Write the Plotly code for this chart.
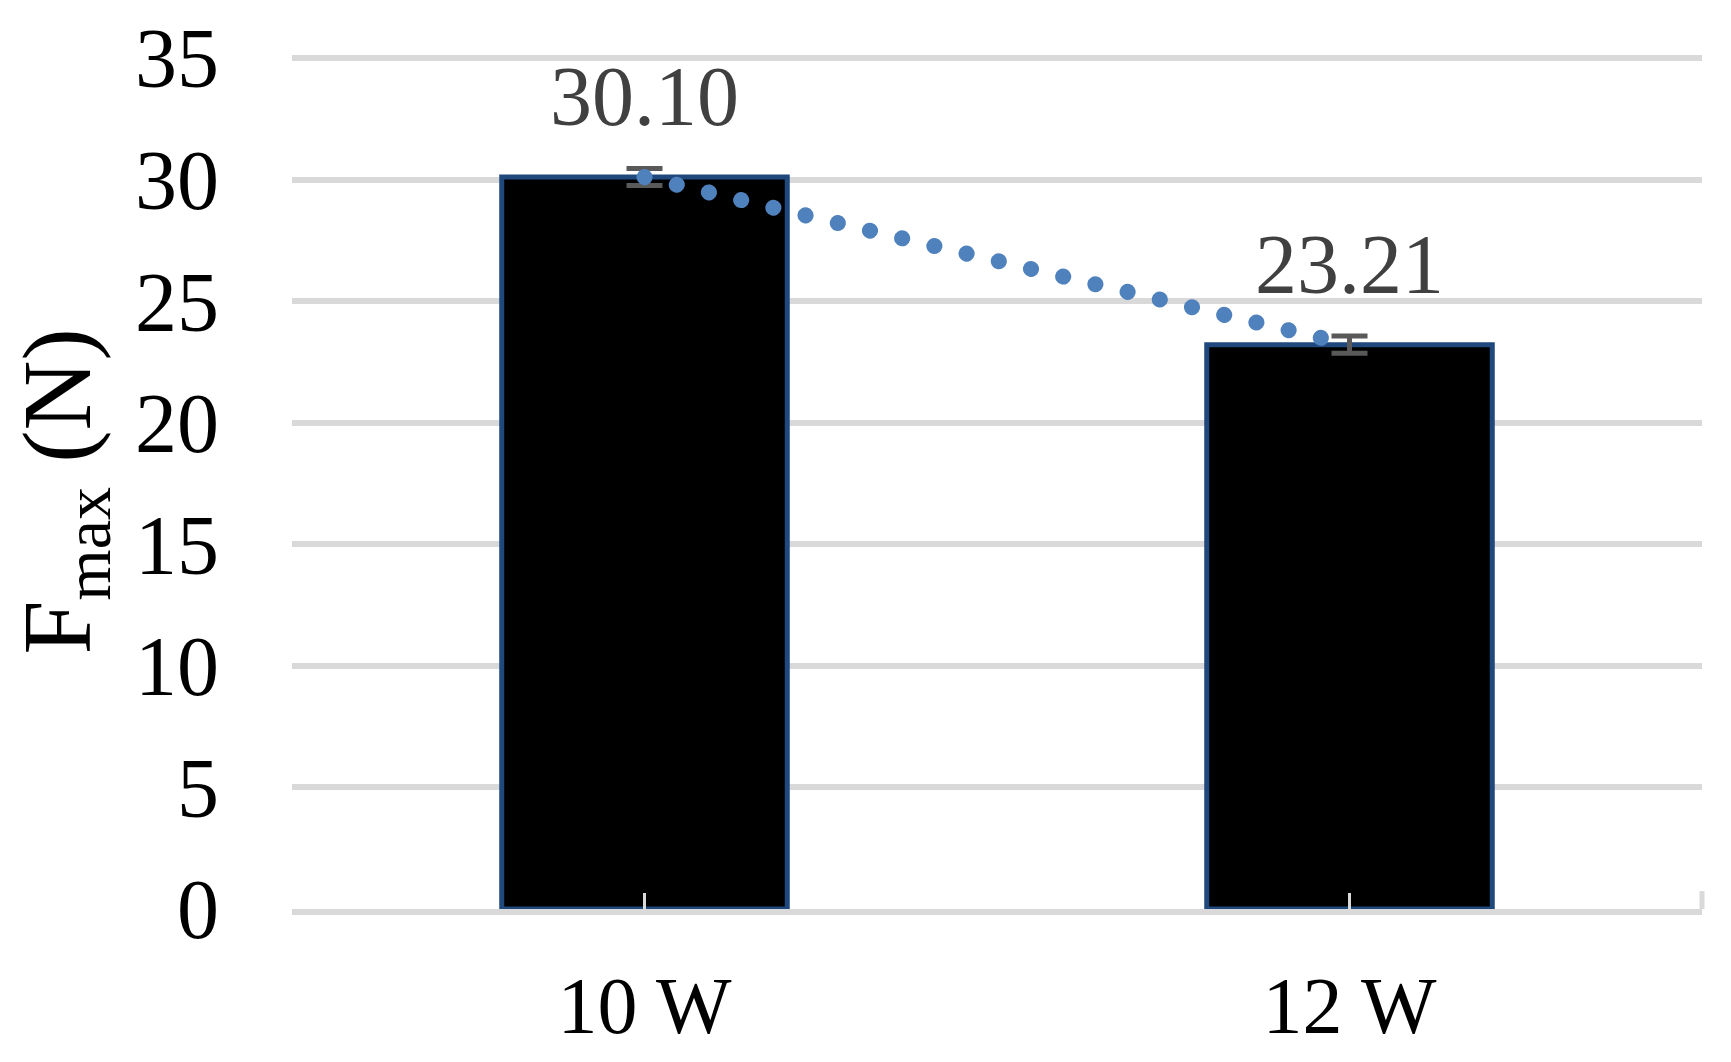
import plotly.graph_objects as go

# data
powers = ["10 W", "12 W"]
fmax = [30.10, 23.21]
fmax_err = [0.35, 0.35]
fmax_labels = ["30.10", "23.21"]
y_ticks = [0, 5, 10, 15, 20, 25, 30, 35]

serif = "Liberation Serif, Times New Roman, serif"
grid_col = "#D9D9D9"

fig = go.Figure()

fig.add_trace(go.Bar(
    x=powers, y=fmax, width=0.405,
    marker=dict(color="black", line=dict(color="#1F497D", width=5)),
    error_y=dict(type="data", array=fmax_err, color="#595959", thickness=5, width=18),
    showlegend=False, hoverinfo="skip"))

# linear trendline through the two bars (dotted)
fig.add_trace(go.Scatter(
    x=powers, y=fmax, mode="lines",
    line=dict(color="#4F81BD", width=16, dash="1px,32px"),
    showlegend=False, hoverinfo="skip"))

for p, v, t in zip(powers, fmax, fmax_labels):
    fig.add_annotation(x=p, y=v, text=t, showarrow=False, yanchor="bottom", yshift=32,
                       font=dict(family=serif, size=84, color="#404040"))

fig.add_annotation(xref="paper", yref="paper", x=-0.162, y=0.49, textangle=-90,
                   text='F<sub><span style="font-size:66px">max</span></sub> (N)',
                   showarrow=False, xanchor="center", yanchor="middle",
                   font=dict(family=serif, size=97, color="black"))

# small closing tick at the right end of the category axis
fig.add_shape(type="line", xref="paper", yref="paper", x0=1, x1=1, y0=0, y1=0.021,
              line=dict(color=grid_col, width=5))

fig.update_layout(
    width=1731, height=1062,
    margin=dict(l=292, r=29, t=54, b=153),
    paper_bgcolor="white", plot_bgcolor="white",
    font=dict(family=serif, color="black"),
    xaxis=dict(showline=True, linecolor=grid_col, linewidth=6,
               ticks="inside", ticklen=16, tickwidth=3, tickcolor=grid_col,
               tickfont=dict(size=80, family=serif), ticklabelstandoff=22,
               showgrid=False),
    # top slightly above 35 so plotly keeps the 35 grid line
    yaxis=dict(range=[0, 35.08], tickvals=y_ticks, showgrid=True, gridcolor=grid_col,
               gridwidth=6, zeroline=False, tickfont=dict(size=84, family=serif),
               ticklabelstandoff=72),
)

fig.write_html("out.html", config={"displayModeBar": False}, post_script="""
document.body.style.margin = '0';
document.querySelectorAll('.scatterlayer .js-line').forEach(function(p){
  p.style.strokeLinecap = 'round'; p.style.strokeDasharray = '0.1px,33px';
});
""")
